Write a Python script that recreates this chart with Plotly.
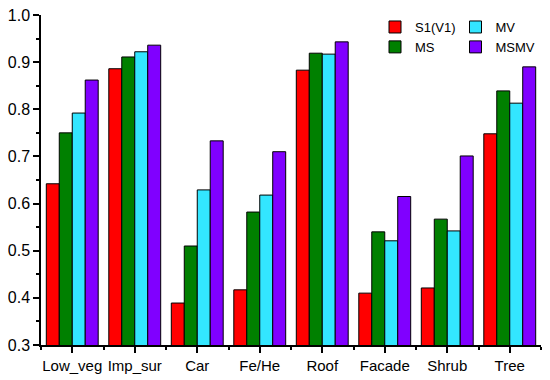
import plotly.graph_objects as go

categories = ["Low_veg", "Imp_sur", "Car", "Fe/He", "Roof", "Facade", "Shrub", "Tree"]
s1_v1 = [0.642, 0.886, 0.389, 0.417, 0.883, 0.410, 0.421, 0.748]
ms = [0.750, 0.911, 0.510, 0.582, 0.919, 0.540, 0.567, 0.839]
mv = [0.792, 0.922, 0.629, 0.618, 0.917, 0.521, 0.542, 0.813]
msmv = [0.862, 0.936, 0.733, 0.710, 0.943, 0.615, 0.701, 0.890]
y_ticks = [0.3, 0.4, 0.5, 0.6, 0.7, 0.8, 0.9, 1.0]

series = [
    ("S1(V1)", s1_v1, "#FF0000", "legend"),
    ("MS", ms, "#008000", "legend"),
    ("MV", mv, "#33E6FF", "legend2"),
    ("MSMV", msmv, "#8000FF", "legend2"),
]

xpos = list(range(len(categories)))
fig = go.Figure()
for name, vals, color, lg in series:
    fig.add_trace(go.Bar(
        x=xpos, y=vals, name=name, legend=lg,
        marker=dict(color=color, line=dict(color="#000000", width=1)),
    ))

fig.update_layout(
    width=542, height=372,
    margin=dict(l=33, r=9, t=7, b=35, autoexpand=False),
    plot_bgcolor="white", paper_bgcolor="white",
    barmode="group", bargap=0.17, bargroupgap=0,
    font=dict(family="Liberation Sans, Arial", size=15, color="black"),
    legend=dict(x=0.668, y=1.009, xanchor="left", yanchor="top",
                font=dict(size=13), bgcolor="rgba(0,0,0,0)",
                tracegroupgap=0, itemwidth=30),
    legend2=dict(x=0.829, y=1.009, xanchor="left", yanchor="top",
                 font=dict(size=13), bgcolor="rgba(0,0,0,0)",
                 tracegroupgap=0, itemwidth=30),
    xaxis=dict(
        range=[-0.5, 7.5], tickvals=xpos, ticktext=categories,
        tickfont=dict(size=15), ticklabeloverflow="allow",
        showline=True, linecolor="black", linewidth=1.5,
        ticks="outside", ticklen=6, tickwidth=1.5, tickcolor="black",
        minor=dict(tick0=0.5, dtick=1, ticks="outside", ticklen=3, tickwidth=1.5, tickcolor="black"),
        showgrid=False, zeroline=False,
    ),
    yaxis=dict(
        range=[0.3, 1.0], tickvals=y_ticks, tickformat=".1f",
        tickfont=dict(size=16), ticklabeloverflow="allow",
        showline=True, linecolor="black", linewidth=1.5,
        ticks="outside", ticklen=6, tickwidth=1.5, tickcolor="black",
        minor=dict(dtick=0.05, tick0=0.3, ticks="outside", ticklen=3, tickwidth=1.5, tickcolor="black"),
        showgrid=False, zeroline=False,
    ),
)

fig.write_html("out.html")
